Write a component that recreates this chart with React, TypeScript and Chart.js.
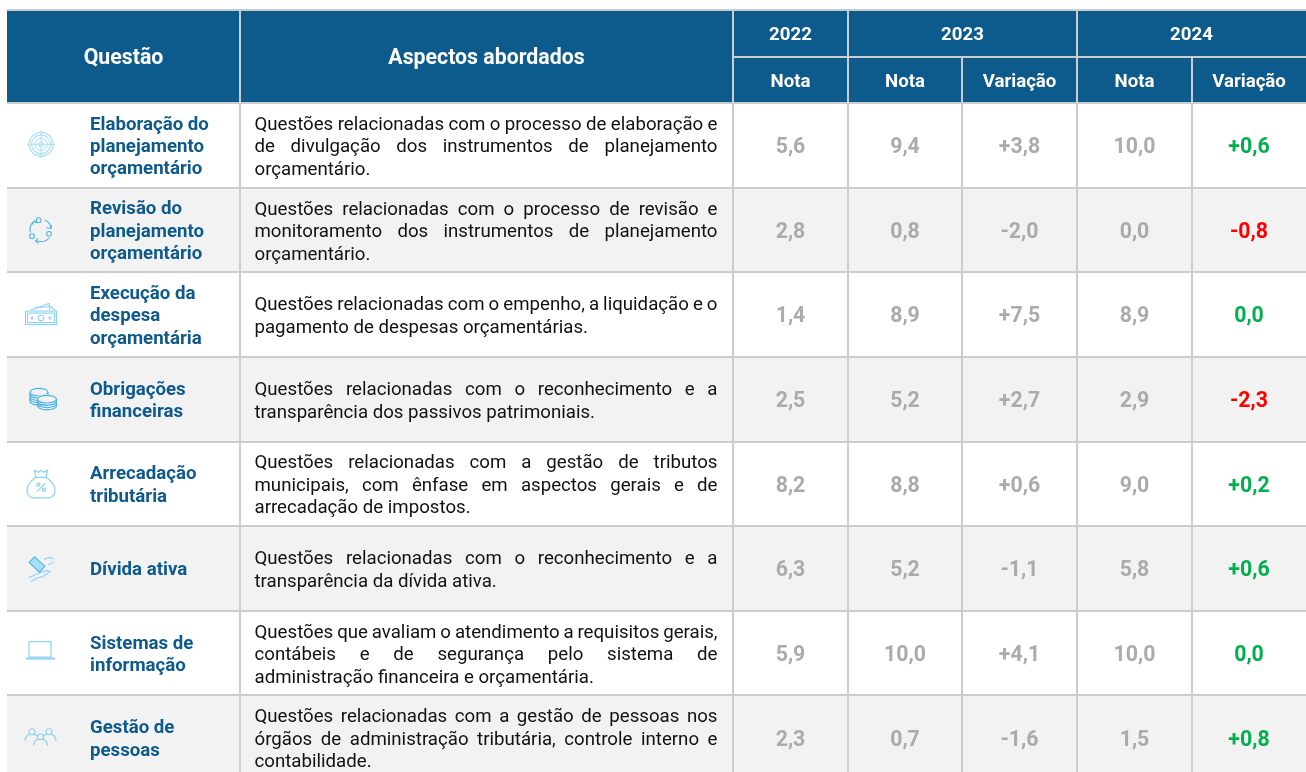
import React, { useEffect, useRef } from "react";
import { Chart, registerables } from "chart.js";

Chart.register(...registerables);

const questions = [
  ["Elaboração do", "planejamento", "orçamentário"],
  ["Revisão do", "planejamento", "orçamentário"],
  ["Execução da", "despesa", "orçamentária"],
  ["Obrigações", "financeiras"],
  ["Arrecadação", "tributária"],
  ["Dívida ativa"],
  ["Sistemas de", "informação"],
  ["Gestão de", "pessoas"],
];
const aspects = [
  ["Questões relacionadas com o processo de elaboração e", "de divulgação dos instrumentos de planejamento", "orçamentário."],
  ["Questões relacionadas com o processo de revisão e", "monitoramento dos instrumentos de planejamento", "orçamentário."],
  ["Questões relacionadas com o empenho, a liquidação e o", "pagamento de despesas orçamentárias."],
  ["Questões relacionadas com o reconhecimento e a", "transparência dos passivos patrimoniais."],
  ["Questões relacionadas com a gestão de tributos", "municipais, com ênfase em aspectos gerais e de", "arrecadação de impostos."],
  ["Questões relacionadas com o reconhecimento e a", "transparência da dívida ativa."],
  ["Questões que avaliam o atendimento a requisitos gerais,", "contábeis e de segurança pelo sistema de", "administração financeira e orçamentária."],
  ["Questões relacionadas com a gestão de pessoas nos", "órgãos de administração tributária, controle interno e", "contabilidade."],
];
const nota2022 = [5.6, 2.8, 1.4, 2.5, 8.2, 6.3, 5.9, 2.3];
const nota2023 = [9.4, 0.8, 8.9, 5.2, 8.8, 5.2, 10.0, 0.7];
const variacao2023 = [3.8, -2.0, 7.5, 2.7, 0.6, -1.1, 4.1, -1.6];
const nota2024 = [10.0, 0.0, 8.9, 2.9, 9.0, 5.8, 10.0, 1.5];
const variacao2024 = [0.6, -0.8, 0.0, -2.3, 0.2, 0.6, 0.0, 0.8];

const columnEdges = [7, 240, 733, 848, 962, 1077, 1192, 1306];
const topLabels = ["Questão", "Aspectos abordados"];
const yearLabels = ["2022", "2023", "2024"];
const subLabels = ["Nota", "Nota", "Variação", "Nota", "Variação"];

const HEADER = "#0D5A8C";
const RULE = "#CCCCCC";
const BLUE = "#0F5A8C";
const GREY = "#ABABAB";
const GREEN = "#00B050";
const RED = "#FF0000";
const ICON = "#8AD2F4";
const ICON_LIGHT = "#A8DFF8";
const ICON_DARK = "#4FB3E4";
const FF = "Roboto, sans-serif";

const fmt = (v: number) => v.toFixed(1).replace(".", ",");
const fmtVar = (v: number) => (v > 0 ? "+" : "") + fmt(v);

type C = CanvasRenderingContext2D;
function circle(c: C, x: number, y: number, r: number) {
  c.beginPath();
  c.arc(x, y, r, 0, Math.PI * 2);
  c.stroke();
}
function poly(c: C, pts: number[][]) {
  c.beginPath();
  pts.forEach((p, i) => (i ? c.lineTo(p[0], p[1]) : c.moveTo(p[0], p[1])));
  c.stroke();
}
function iconTarget(c: C) {
  c.translate(0, -1);
  c.lineWidth = 1.2;
  c.strokeStyle = ICON_LIGHT;
  circle(c, 0, 0, 12);
  circle(c, 0, 0, 9.5);
  c.lineWidth = 1;
  circle(c, 0, 0, 6);
  circle(c, 0, 0, 2.6);
  poly(c, [[-14, 0], [14, 0]]);
  poly(c, [[0, -14], [0, 14]]);
}
function iconCycle(c: C) {
  c.lineWidth = 1.1;
  c.strokeStyle = ICON_DARK;
  circle(c, -2.3, -9.8, 2.4);
  circle(c, 8, 3.9, 2.4);
  circle(c, -9, 6.2, 2.4);
  c.beginPath(); c.arc(0, 0, 10.5, -1.2, -0.1); c.stroke();
  c.beginPath(); c.arc(0, 0, 11.5, 0.75, 2.0); c.stroke();
  c.beginPath(); c.arc(0, 0, 11, 2.9, 4.1); c.stroke();
  poly(c, [[5.5, -2.5], [9.5, -1.5], [10.5, -5]]);
  poly(c, [[-3, 8.5], [-5.5, 11], [-2.5, 13.5]]);
  poly(c, [[-9.5, -5], [-6.5, -9], [-3.8, -7]]);
}
function iconMoney(c: C) {
  c.translate(0, 3);
  c.lineWidth = 1.1;
  c.strokeStyle = ICON;
  c.strokeRect(-15.5, -6.5, 31, 13.5);
  c.strokeRect(-13.5, -4.5, 27, 9.5);
  circle(c, 0, 0.5, 2.8);
  circle(c, -9, 0.5, 1);
  circle(c, 9, 0.5, 1);
  poly(c, [[-10, -7.5], [8, -14], [9, -7.5]]);
  poly(c, [[-6, -9.5], [10, -11], [14, -7.5]]);
}
function coinStack(c: C, x: number, y: number, rx: number, n: number) {
  for (let i = n; i >= 0; i--) {
    c.beginPath();
    c.ellipse(x, y + i * 2.3, rx, 3.8, 0, 0, i ? Math.PI : Math.PI * 2);
    c.stroke();
  }
  poly(c, [[x - rx, y], [x - rx, y + n * 2.3]]);
  poly(c, [[x + rx, y], [x + rx, y + n * 2.3]]);
}
function iconCoins(c: C, bg: string) {
  c.lineWidth = 1.2;
  c.strokeStyle = ICON_DARK;
  coinStack(c, -2, -7, 9, 4);
  c.fillStyle = bg;
  c.beginPath();
  c.ellipse(6, 0, 10.5, 5, 0, 0, Math.PI * 2);
  c.fill();
  coinStack(c, 6, 0, 9.5, 3);
}
function iconBag(c: C) {
  c.translate(0, 0.5);
  c.lineWidth = 1.2;
  c.strokeStyle = ICON;
  c.beginPath();
  c.moveTo(-5, -7);
  c.bezierCurveTo(-12, -2, -14, 2, -14, 6);
  c.bezierCurveTo(-14, 11, -11, 13.5, -7, 13.5);
  c.lineTo(7, 13.5);
  c.bezierCurveTo(11, 13.5, 14, 11, 14, 6);
  c.bezierCurveTo(14, 2, 12, -2, 5, -7);
  c.closePath();
  c.stroke();
  poly(c, [[-5, -7], [-6.5, -14], [-2.5, -12], [0, -14], [2.5, -12], [6.5, -14], [5, -7]]);
  poly(c, [[-4, 7], [4.5, -1]]);
  c.strokeRect(-4, -1, 2.6, 2.6);
  c.strokeRect(1.5, 4, 2.6, 2.6);
}
function iconHand(c: C) {
  c.lineWidth = 1.1;
  c.strokeStyle = ICON_DARK;
  c.save();
  c.translate(-4, -4);
  c.rotate(0.75);
  c.fillStyle = ICON_LIGHT;
  c.fillRect(-7, -4, 14, 8);
  c.strokeRect(-7, -4, 14, 8);
  c.restore();
  c.strokeStyle = ICON;
  poly(c, [[3, -9], [8, -11], [13, -10]]);
  poly(c, [[7, -4], [12, -5.5], [12, -7]]);
  poly(c, [[-12, 9], [-4, 5.5], [6, 2], [9, 3], [2, 8], [-4, 9.5], [-10, 13]]);
}
function iconLaptop(c: C) {
  c.lineWidth = 1.2;
  c.strokeStyle = ICON;
  c.strokeRect(-12, -11.5, 22, 15.5);
  c.lineWidth = 2;
  poly(c, [[-15.5, 5.5], [14, 5.5]]);
}
function person(c: C, x: number, y: number, bg: string) {
  c.fillStyle = bg;
  c.beginPath();
  c.arc(x, y + 9, 7, Math.PI, 0);
  c.fill();
  c.stroke();
  c.beginPath();
  c.arc(x, y, 3, 0, Math.PI * 2);
  c.fill();
  c.stroke();
}
function iconPeople(c: C, bg: string) {
  c.lineWidth = 1.1;
  c.strokeStyle = ICON;
  person(c, -9, -6, bg);
  person(c, 8, -6, bg);
  person(c, -0.5, -1, bg);
}

function drawJustified(c: C, line: string, left: number, right: number, y: number, justify: boolean) {
  const words = line.split(" ");
  if (!justify || words.length < 2) {
    c.fillText(line, left, y);
    return;
  }
  const total = words.reduce((s, w) => s + c.measureText(w).width, 0);
  const gap = (right - left - total) / (words.length - 1);
  let x = left;
  for (const w of words) {
    c.fillText(w, x, y);
    x += c.measureText(w).width + gap;
  }
}

const rowFill = questions.map((_, i) => (i % 2 ? "#F2F2F2" : "#FFFFFF"));

const tablePlugin = {
  id: "tablePlugin",
  afterDraw(chart: any) {
    const c: C = chart.ctx;
    const xs = chart.scales.x;
    const ys = chart.scales.y;
    const px = (v: number) => xs.getPixelForValue(v);
    const e = columnEdges.map(px);
    const mid = (a: number, b: number) => (e[a] + e[b]) / 2;
    c.save();
    // Header
    c.fillStyle = RULE;
    c.fillRect(e[0], 9, e[7] - e[0], 2);
    c.fillStyle = HEADER;
    c.fillRect(e[0], 11, e[7] - e[0], 91);
    c.fillStyle = RULE;
    c.fillRect(e[2], 56, e[7] - e[2], 2);
    [1, 2, 3, 5].forEach((i) => c.fillRect(e[i] - 1, 11, 2, 91));
    [4, 6].forEach((i) => c.fillRect(e[i] - 1, 58, 2, 44));
    c.fillStyle = "#FFFFFF";
    c.textAlign = "center";
    c.textBaseline = "middle";
    c.font = `700 21.3px ${FF}`;
    c.fillText(topLabels[0], mid(0, 1), 58.5);
    c.fillText(topLabels[1], mid(1, 2), 58.5);
    c.font = `700 18.67px ${FF}`;
    c.fillText(yearLabels[0], mid(2, 3), 35);
    c.fillText(yearLabels[1], mid(3, 5), 35);
    c.fillText(yearLabels[2], mid(5, 7), 35);
    subLabels.forEach((s, i) => {
      const k = i + 2;
      c.fillText(s, mid(k, k + 1), 82);
    });
    // Body
    questions.forEach((q, r) => {
      const cy = ys.getPixelForValue(r);
      c.textAlign = "left";
      c.textBaseline = "middle";
      c.fillStyle = BLUE;
      c.font = `700 18.67px ${FF}`;
      q.forEach((t, i) => c.fillText(t, 90, cy + 2 + (i - (q.length - 1) / 2) * 22.4));
      c.fillStyle = "#111111";
      c.font = `400 18.67px ${FF}`;
      const a = aspects[r];
      a.forEach((t, i) =>
        drawJustified(c, t, 254.5, 717.5, cy + 2.5 + (i - (a.length - 1) / 2) * 22.5, i < a.length - 1)
      );
      c.textAlign = "center";
      c.font = `700 21.3px ${FF}`;
      const cells = [fmt(nota2022[r]), fmt(nota2023[r]), fmtVar(variacao2023[r]), fmt(nota2024[r])];
      c.fillStyle = GREY;
      cells.forEach((t, i) => c.fillText(t, mid(i + 2, i + 3), cy + 2.5));
      c.fillStyle = variacao2024[r] < 0 ? RED : GREEN;
      c.fillText(fmtVar(variacao2024[r]), mid(6, 7), cy + 2.5);
      // Icons
      c.save();
      c.translate(px(41), cy);
      const bg = rowFill[r];
      const icons = [iconTarget, iconCycle, iconMoney, (k: C) => iconCoins(k, bg), iconBag, iconHand, iconLaptop, (k: C) => iconPeople(k, bg)];
      icons[r](c);
      c.restore();
    });
    c.restore();
  },
};

export default function App() {
  const ref = useRef<HTMLCanvasElement>(null);
  useEffect(() => {
    document.body.style.margin = "0";
    const chart = new Chart(ref.current!, {
      type: "bar",
      data: {
        labels: questions.map((q) => q.join(" ")),
        datasets: [
          {
            label: "Linhas",
            data: questions.map(() => [columnEdges[0], columnEdges[columnEdges.length - 1]]) as any,
            backgroundColor: rowFill,
            barPercentage: 1,
            categoryPercentage: 1,
            borderWidth: 0,
          },
        ],
      },
      options: {
        indexAxis: "y",
        responsive: false,
        animation: false,
        layout: { padding: { top: 103, left: 7, right: 0, bottom: 0 } },
        plugins: { legend: { display: false }, tooltip: { enabled: false }, title: { display: false } },
        scales: {
          x: {
            type: "linear",
            min: columnEdges[0],
            max: columnEdges[columnEdges.length - 1],
            afterBuildTicks: (s: any) => {
              s.ticks = columnEdges.map((value) => ({ value }));
            },
            ticks: { display: false },
            border: { display: false },
            grid: {
              z: 1,
              drawTicks: false,
              lineWidth: 2,
              color: (ctx: any) =>
                ctx.tick && (ctx.tick.value === columnEdges[0] || ctx.tick.value === columnEdges[columnEdges.length - 1])
                  ? "rgba(0,0,0,0)"
                  : RULE,
            },
          },
          y: {
            type: "category",
            ticks: { display: false },
            border: { display: false },
            grid: { z: 1, drawTicks: false, lineWidth: 2, color: RULE, offset: true },
          },
        },
      },
      plugins: [tablePlugin],
    } as any);
    return () => chart.destroy();
  }, []);
  return (
    <div style={{ position: "absolute", left: 0, top: 0, width: 1306, height: 772, overflow: "hidden", background: "#fff" }}>
      <canvas ref={ref} width={1306} height={780} style={{ display: "block" }} />
    </div>
  );
}
